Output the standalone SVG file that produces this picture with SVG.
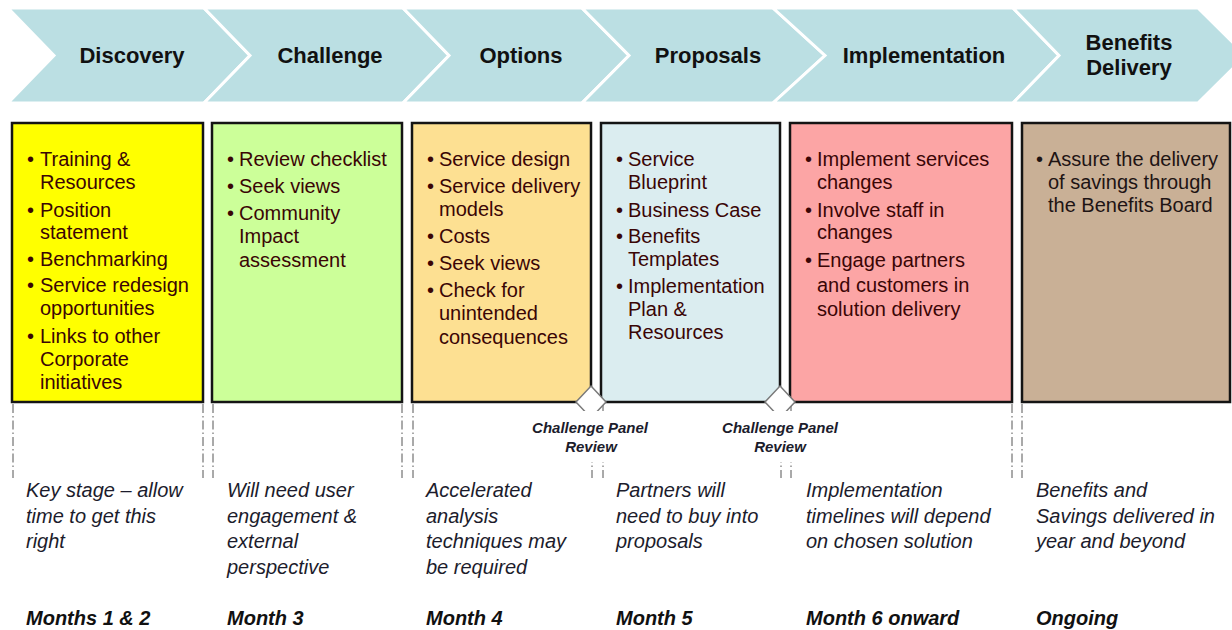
<svg xmlns="http://www.w3.org/2000/svg" width="1232" height="630" viewBox="0 0 1232 630">
  <style>
    .chev { fill: #bbdfe3; stroke: #ffffff; stroke-width: 3; stroke-linejoin: miter; }
    .head { font-family: "Liberation Sans", Arial, sans-serif; font-size: 22px; font-weight: bold; fill: #111111; text-anchor: middle; }
    .box { stroke: #141414; stroke-width: 2.5; }
    .body { font-family: "Liberation Sans", Arial, sans-serif; font-size: 20px; fill: #3a0505; }
    .body6 { font-family: "Liberation Sans", Arial, sans-serif; font-size: 20px; fill: #1e1414; }
    .note { font-family: "Liberation Sans", Arial, sans-serif; font-size: 20px; font-style: italic; fill: #1c1c2c; }
    .month { font-family: "Liberation Sans", Arial, sans-serif; font-size: 20px; font-style: italic; font-weight: bold; fill: #111111; }
    .guide { stroke: #555555; stroke-width: 1; stroke-dasharray: 9 3 1.5 3; fill: none; }
    .gate { fill: #ffffff; stroke: #7a7a7a; stroke-width: 1.5; }
    .gate-label { font-family: "Liberation Sans", Arial, sans-serif; font-size: 15px; font-style: italic; font-weight: bold; fill: #1c1c2c; text-anchor: middle; }
  </style>

  <rect width="1232" height="630" fill="#ffffff"/>

  <!-- process chevrons -->
  <g id="stage-headers">
    <g id="hdr-discovery">
      <polygon class="chev" points="8,8 204,8 250,55.5 204,103 8,103 54,55.5"/>
      <text class="head" x="132" y="63">Discovery</text>
    </g>
    <g id="hdr-challenge">
      <polygon class="chev" points="204,8 403,8 449,55.5 403,103 204,103 250,55.5"/>
      <text class="head" x="330" y="63">Challenge</text>
    </g>
    <g id="hdr-options">
      <polygon class="chev" points="403,8 582,8 629,55.5 582,103 403,103 449,55.5"/>
      <text class="head" x="521" y="63">Options</text>
    </g>
    <g id="hdr-proposals">
      <polygon class="chev" points="582,8 773,8 825,55.5 773,103 582,103 629,55.5"/>
      <text class="head" x="708" y="63">Proposals</text>
    </g>
    <g id="hdr-implementation">
      <polygon class="chev" points="773,8 1013,8 1059,55.5 1013,103 773,103 825,55.5"/>
      <text class="head" x="924" y="63">Implementation</text>
    </g>
    <g id="hdr-benefits">
      <polygon class="chev" points="1013,8 1198,8 1246,55.5 1198,103 1013,103 1059,55.5"/>
      <text class="head" x="1129" y="50">Benefits</text>
      <text class="head" x="1129" y="75">Delivery</text>
    </g>
  </g>

  <!-- guide lines dropping from the stage boxes -->
  <g id="connectors">
    <line class="guide" x1="13" y1="404" x2="13" y2="478"/>
    <line class="guide" x1="203" y1="404" x2="203" y2="478"/>
    <line class="guide" x1="213" y1="404" x2="213" y2="478"/>
    <line class="guide" x1="402" y1="404" x2="402" y2="478"/>
    <line class="guide" x1="413" y1="404" x2="413" y2="478"/>
    <line class="guide" x1="592" y1="404" x2="592" y2="478"/>
    <line class="guide" x1="603" y1="404" x2="603" y2="478"/>
    <line class="guide" x1="781" y1="404" x2="781" y2="478"/>
    <line class="guide" x1="791" y1="404" x2="791" y2="478"/>
    <line class="guide" x1="1012" y1="404" x2="1012" y2="478"/>
    <line class="guide" x1="1022" y1="404" x2="1022" y2="478"/>
  </g>

  <!-- stage boxes -->
  <g id="box-discovery">
    <rect class="box" x="12" y="123" width="191" height="279" fill="#ffff00"/>
    <text class="body">
      <tspan x="27" y="166">•</tspan><tspan x="40" y="166">Training &amp;</tspan>
      <tspan x="40" y="189">Resources</tspan>
      <tspan x="27" y="217">•</tspan><tspan x="40" y="217">Position</tspan>
      <tspan x="40" y="239">statement</tspan>
      <tspan x="27" y="266">•</tspan><tspan x="40" y="266">Benchmarking</tspan>
      <tspan x="27" y="292">•</tspan><tspan x="40" y="292">Service redesign</tspan>
      <tspan x="40" y="315">opportunities</tspan>
      <tspan x="27" y="343">•</tspan><tspan x="40" y="343">Links to other</tspan>
      <tspan x="40" y="366">Corporate</tspan>
      <tspan x="40" y="389">initiatives</tspan>
    </text>
  </g>

  <g id="box-challenge">
    <rect class="box" x="212" y="123" width="190" height="279" fill="#ccff99"/>
    <text class="body">
      <tspan x="227" y="166">•</tspan><tspan x="239" y="166">Review checklist</tspan>
      <tspan x="227" y="193">•</tspan><tspan x="239" y="193">Seek views</tspan>
      <tspan x="227" y="220">•</tspan><tspan x="239" y="220">Community</tspan>
      <tspan x="239" y="243">Impact</tspan>
      <tspan x="239" y="267">assessment</tspan>
    </text>
  </g>

  <g id="box-options">
    <rect class="box" x="412" y="123" width="179" height="279" fill="#fde092"/>
    <text class="body">
      <tspan x="427" y="166">•</tspan><tspan x="439" y="166">Service design</tspan>
      <tspan x="427" y="193">•</tspan><tspan x="439" y="193">Service delivery</tspan>
      <tspan x="439" y="216">models</tspan>
      <tspan x="427" y="243">•</tspan><tspan x="439" y="243">Costs</tspan>
      <tspan x="427" y="270">•</tspan><tspan x="439" y="270">Seek views</tspan>
      <tspan x="427" y="297">•</tspan><tspan x="439" y="297">Check for</tspan>
      <tspan x="439" y="320">unintended</tspan>
      <tspan x="439" y="344">consequences</tspan>
    </text>
  </g>

  <g id="box-proposals">
    <rect class="box" x="601" y="123" width="179" height="279" fill="#dbedf0"/>
    <text class="body">
      <tspan x="616" y="166">•</tspan><tspan x="628" y="166">Service</tspan>
      <tspan x="628" y="189">Blueprint</tspan>
      <tspan x="616" y="217">•</tspan><tspan x="628" y="217">Business Case</tspan>
      <tspan x="616" y="243">•</tspan><tspan x="628" y="243">Benefits</tspan>
      <tspan x="628" y="266">Templates</tspan>
      <tspan x="616" y="293">•</tspan><tspan x="628" y="293">Implementation</tspan>
      <tspan x="628" y="316">Plan &amp;</tspan>
      <tspan x="628" y="339">Resources</tspan>
    </text>
  </g>

  <g id="box-implementation">
    <rect class="box" x="790" y="123" width="222" height="279" fill="#fca5a5"/>
    <text class="body">
      <tspan x="805" y="166">•</tspan><tspan x="817" y="166">Implement services</tspan>
      <tspan x="817" y="189">changes</tspan>
      <tspan x="805" y="217">•</tspan><tspan x="817" y="217">Involve staff in</tspan>
      <tspan x="817" y="239">changes</tspan>
      <tspan x="805" y="267">•</tspan><tspan x="817" y="267">Engage partners</tspan>
      <tspan x="817" y="292">and customers in</tspan>
      <tspan x="817" y="316">solution delivery</tspan>
    </text>
  </g>

  <g id="box-benefits">
    <rect class="box" x="1022" y="123" width="208" height="279" fill="#c9b096"/>
    <text class="body6">
      <tspan x="1036" y="166">•</tspan><tspan x="1048" y="166">Assure the delivery</tspan>
      <tspan x="1048" y="189">of savings through</tspan>
      <tspan x="1048" y="212">the Benefits Board</tspan>
    </text>
  </g>

  <!-- review gates between options/proposals and proposals/implementation -->
  <g id="gate-1">
    <polygon class="gate" points="591,386 606,402 591,418 576,402"/>
    <rect x="528" y="411" width="126" height="51" fill="#ffffff"/>
    <text class="gate-label" x="590" y="433">Challenge Panel</text>
    <text class="gate-label" x="591" y="452">Review</text>
  </g>
  <g id="gate-2">
    <polygon class="gate" points="780,386 795,402 780,418 765,402"/>
    <rect x="717" y="411" width="126" height="51" fill="#ffffff"/>
    <text class="gate-label" x="780" y="433">Challenge Panel</text>
    <text class="gate-label" x="780" y="452">Review</text>
  </g>

  <!-- notes and timescales -->
  <g id="note-discovery">
    <text class="note"><tspan x="26" y="497">Key stage – allow</tspan><tspan x="26" y="523">time to get this</tspan><tspan x="26" y="548">right</tspan></text>
    <text class="month" x="26" y="625">Months 1 &amp; 2</text>
  </g>
  <g id="note-challenge">
    <text class="note"><tspan x="227" y="497">Will need user</tspan><tspan x="227" y="523">engagement &amp;</tspan><tspan x="227" y="548">external</tspan><tspan x="227" y="574">perspective</tspan></text>
    <text class="month" x="227" y="625">Month 3</text>
  </g>
  <g id="note-options">
    <text class="note"><tspan x="426" y="497">Accelerated</tspan><tspan x="426" y="523">analysis</tspan><tspan x="426" y="548">techniques may</tspan><tspan x="426" y="574">be required</tspan></text>
    <text class="month" x="426" y="625">Month 4</text>
  </g>
  <g id="note-proposals">
    <text class="note"><tspan x="616" y="497">Partners will</tspan><tspan x="616" y="523">need to buy into</tspan><tspan x="616" y="548">proposals</tspan></text>
    <text class="month" x="616" y="625">Month 5</text>
  </g>
  <g id="note-implementation">
    <text class="note"><tspan x="806" y="497">Implementation</tspan><tspan x="806" y="523">timelines will depend</tspan><tspan x="806" y="548">on chosen solution</tspan></text>
    <text class="month" x="806" y="625">Month 6 onward</text>
  </g>
  <g id="note-benefits">
    <text class="note"><tspan x="1036" y="497">Benefits and</tspan><tspan x="1036" y="523">Savings delivered in</tspan><tspan x="1036" y="548">year and beyond</tspan></text>
    <text class="month" x="1036" y="625">Ongoing</text>
  </g>
</svg>
